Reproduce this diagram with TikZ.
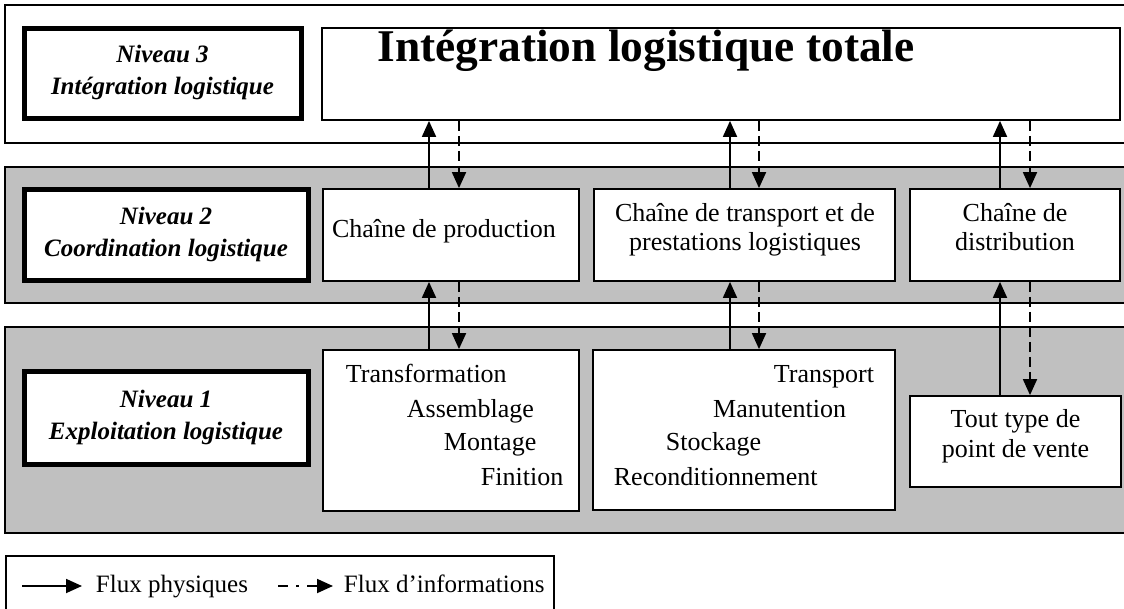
\documentclass[tikz,border=0pt]{standalone}
\usepackage{fontspec}
\setmainfont{Liberation Serif}
\usetikzlibrary{arrows.meta}
\definecolor{bandgray}{RGB}{192,192,192}
\newcommand{\txtfont}{\fontsize{13}{14.5}\selectfont}
\newcommand{\labfont}{\fontsize{12.5}{15}\selectfont\bfseries\itshape}
\newcommand{\titlefont}{\fontsize{22.7}{27}\selectfont\bfseries}
\newcommand{\legfont}{\fontsize{12.5}{15}\selectfont}

\begin{document}
\begin{tikzpicture}[x=0.5pt, y=-0.5pt, line width=0.9pt,
  every node/.style={font=\txtfont, inner sep=0pt},
  lvl/.style={draw, line width=2.5pt, fill=white},
  box/.style={draw, fill=white},
  lab/.style={font=\labfont, anchor=base},
  flux/.style={-{Triangle[width=7pt,length=8pt]}},
  info/.style={flux, dash pattern=on 5pt off 2.5pt}]
\useasboundingbox (0,0) rectangle (1124,609);
% bands
\draw[fill=white] (5,5) rectangle (1140,143);
\draw[fill=bandgray] (5,167) rectangle (1140,303);
\draw[fill=bandgray] (5,327) rectangle (1140,533);
\draw (6,556) rectangle (554,640);
% Niveau 3
\node[lvl, minimum width=138.5pt, minimum height=45pt] (lab3) at (162.5,74) {};
\node[lab] (lab3a) at (162.5,63) {Niveau 3};
\node[lab] (lab3b) at (162.5,95) {Intégration logistique};
\node[box, minimum width=399pt, minimum height=46pt] (top) at (721,74) {};
\node[font=\titlefont, anchor=base] (toptxt) at (646,62) {Intégration logistique totale};
% Niveau 2
\node[lvl, minimum width=142pt, minimum height=45.5pt] (lab2) at (166,235.5) {};
\node[lab] (lab2a) at (166,224.5) {Niveau 2};
\node[lab] (lab2b) at (166,256.5) {Coordination logistique};
\node[box, minimum width=128pt, minimum height=46pt] (b2a) at (451,235) {};
\node[box, minimum width=150.5pt, minimum height=46pt] (b2b) at (744.5,235) {};
\node[box, minimum width=105pt, minimum height=46pt] (b2c) at (1015,235) {};
\node[anchor=base] (t2a) at (444,238) {Chaîne de production};
\node[anchor=base] (t2b1) at (745,222) {Chaîne de transport et de};
\node[anchor=base] (t2b2) at (745,251) {prestations logistiques};
\node[anchor=base] (t2c1) at (1015,222) {Chaîne de};
\node[anchor=base] (t2c2) at (1015,251) {distribution};
% Niveau 1
\node[lvl, minimum width=142pt, minimum height=46.5pt] (lab1) at (166,418) {};
\node[lab] (lab1a) at (166,407) {Niveau 1};
\node[lab] (lab1b) at (166,439) {Exploitation logistique};
\node[box, minimum width=128pt, minimum height=80.5pt] (b1a) at (451,430.5) {};
\node[box, minimum width=151pt, minimum height=80pt] (b1b) at (744,430) {};
\node[box, minimum width=105.5pt, minimum height=45.5pt] (b1c) at (1015.5,441.5) {};
\node[anchor=base west] (t1a1) at (345,382) {Transformation};
\node[anchor=base west] (t1a2) at (406,417) {Assemblage};
\node[anchor=base west] (t1a3) at (443,450) {Montage};
\node[anchor=base west] (t1a4) at (480,485) {Finition};
\node[anchor=base east] (t1b1) at (875,382) {Transport};
\node[anchor=base east] (t1b2) at (847,417) {Manutention};
\node[anchor=base west] (t1b3) at (665,450) {Stockage};
\node[anchor=base west] (t1b4) at (613,485) {Reconditionnement};
\node[anchor=base] (t1c1) at (1015.5,427) {Tout type de};
\node[anchor=base] (t1c2) at (1015.5,457) {point de vente};
% flux
\coordinate (pa) at (429,0);  \coordinate (ia) at (459,0);
\coordinate (pb) at (730,0);  \coordinate (ib) at (759,0);
\coordinate (pc) at (1000,0); \coordinate (ic) at (1030,0);
\draw[flux] (b2a.north -| pa) -- (top.south -| pa);
\draw[info] (top.south -| ia) -- (b2a.north -| ia);
\draw[flux] (b2b.north -| pb) -- (top.south -| pb);
\draw[info] (top.south -| ib) -- (b2b.north -| ib);
\draw[flux] (b2c.north -| pc) -- (top.south -| pc);
\draw[info] (top.south -| ic) -- (b2c.north -| ic);
\draw[flux] (b1a.north -| pa) -- (b2a.south -| pa);
\draw[info] (b2a.south -| ia) -- (b1a.north -| ia);
\draw[flux] (b1b.north -| pb) -- (b2b.south -| pb);
\draw[info] (b2b.south -| ib) -- (b1b.north -| ib);
\draw[flux] (b1c.north -| pc) -- (b2c.south -| pc);
\draw[info] (b2c.south -| ic) -- (b1c.north -| ic);
% legende
\coordinate (s0) at (22,586);  \coordinate (s1) at (82,586);
\coordinate (d0) at (278,586); \coordinate (d1) at (333,586);
\draw[flux] (s0) -- (s1);
\node[font=\legfont, anchor=base west] (lgs) at (95,592) {Flux physiques};
\draw[flux, dash pattern=on 5pt off 4pt on 1.5pt off 4pt] (d0) -- (d1);
\node[font=\legfont, anchor=base west] (lgi) at (343,592) {Flux d’informations};
\end{tikzpicture}
\end{document}
